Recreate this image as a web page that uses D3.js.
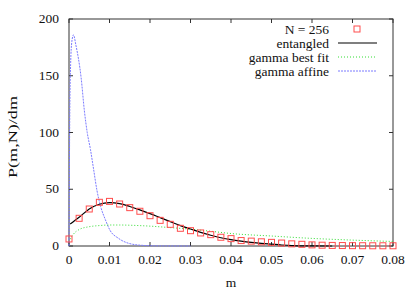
<!DOCTYPE html>
<html lang="en">
  <head>
    <meta charset="utf-8">
    <title>P(m,N)/dm</title>
    <script src="https://d3js.org/d3.v7.min.js"></script>
    <style>
      body{ margin: 0; background: #fff; }
      svg{ display: block; }
    </style>
  </head>

  <body>
    <div id="chart"></div>
    <script>

      // N = 256 histogram (red squares)
      var dataM = [0, 0.0025, 0.005, 0.0075, 0.01, 0.0125, 0.015, 0.0175, 0.02, 0.0225,
                   0.025, 0.0275, 0.03, 0.0325, 0.035, 0.0375, 0.04, 0.0425, 0.045, 0.0475,
                   0.05, 0.0525, 0.055, 0.0575, 0.06, 0.0625, 0.065, 0.0675, 0.07, 0.0725,
                   0.075, 0.0775, 0.08];
      var dataP = [6.2, 24.4, 32.6, 38.5, 39.3, 37, 33.8, 30.6, 26.7, 22.6,
                   19.1, 15.6, 13.5, 11.5, 10, 7.7, 6.5, 4.8, 4.3, 3.7,
                   3.2, 2.6, 1.9, 1.5, 1.0, 0.7, 0.5, 0.4, 0.3, 0.25,
                   0.2, 0.2, 0.2];

      // entangled
      var entM = [0.0003, 0.0025, 0.005, 0.0075, 0.01, 0.0125, 0.015, 0.0175, 0.02, 0.0225,
                  0.025, 0.0275, 0.03, 0.0325, 0.035, 0.0375, 0.04, 0.0425, 0.045, 0.0475,
                  0.05, 0.0525, 0.055, 0.06, 0.065];
      var entP = [19.4, 25.3, 32.7, 36.8, 38.2, 37.3, 34.8, 31.8, 28.5, 25,
                  21.5, 18, 15, 12, 9.5, 7.3, 5.6, 4.3, 3.2, 2.3,
                  1.6, 0.9, 0.4, 0.1, 0];

      // gamma best fit
      var fitM = [0.0003, 0.001, 0.0025, 0.005, 0.0075, 0.01, 0.0125, 0.015, 0.02, 0.025,
                  0.03, 0.035, 0.04, 0.05, 0.06, 0.07, 0.08];
      var fitP = [6, 10, 14.5, 17, 18, 18.5, 18.5, 18.3, 17.5, 16.2,
                  14.8, 13, 11, 8.8, 6.7, 5.2, 4];

      // gamma affine
      var affM = [0, 0.0002, 0.0004, 0.0007, 0.0011, 0.0017, 0.003, 0.0038, 0.0045, 0.0053,
                  0.0061, 0.0069, 0.0078, 0.009, 0.0101, 0.0122, 0.0147, 0.018, 0.022, 0.03];
      var affP = [0, 120, 160, 180, 186, 177, 148, 119, 100, 85,
                  67, 49, 35, 23, 14, 6.8, 2.4, 0.6, 0.1, 0];

      var xTicks = [0, 0.01, 0.02, 0.03, 0.04, 0.05, 0.06, 0.07, 0.08];
      var yTicks = [0, 50, 100, 150, 200];
      var legendNames = ["N = 256", "entangled", "gamma best fit", "gamma affine"];

      var w = 419, h = 293;
      var margin = {top: 19, right: 26, bottom: 47, left: 69};
      var innerWidth = w - margin.left - margin.right;
      var innerHeight = h - margin.top - margin.bottom;
      var fs = 13.5;

      var svg = d3.select("#chart").append("svg")
                  .attr("width", w)
                  .attr("height", h)
                  .attr("font-family", "'Liberation Serif', 'Times New Roman', serif");

      // scales map straight to page pixels
      var xScale = d3.scaleLinear().domain([0, 0.08]).range([margin.left, w - margin.right]);
      var yScale = d3.scaleLinear().domain([0, 200]).range([h - margin.bottom, margin.top]);
      var x0 = margin.left, x1 = w - margin.right, y0 = h - margin.bottom, y1 = margin.top;

      // frame + inward ticks (gnuplot style, mirrored)
      var tl = 4;
      var frame = svg.append("g").attr("stroke", "#333").attr("stroke-width", 1).attr("fill", "none");
      frame.append("rect").attr("x", x0).attr("y", y1).attr("width", innerWidth).attr("height", innerHeight);
      xTicks.forEach(function(t){
        frame.append("line").attr("x1", xScale(t)).attr("x2", xScale(t)).attr("y1", y0).attr("y2", y0 - tl);
        frame.append("line").attr("x1", xScale(t)).attr("x2", xScale(t)).attr("y1", y1).attr("y2", y1 + tl);
      });
      yTicks.forEach(function(t){
        frame.append("line").attr("x1", x0).attr("x2", x0 + tl).attr("y1", yScale(t)).attr("y2", yScale(t));
        frame.append("line").attr("x1", x1).attr("x2", x1 - tl).attr("y1", yScale(t)).attr("y2", yScale(t));
      });

      var label = function(x, y, txt, anchor){
        return svg.append("text")
                  .attr("x", x)
                  .attr("y", y)
                  .attr("text-anchor", anchor)
                  .attr("font-size", fs)
                  .attr("fill", "#111")
                  .text(txt);
      };

      xTicks.forEach(function(t){
        label(xScale(t), y0 + 18, t === 0 ? "0" : d3.format(".2f")(t), "middle");
      });
      yTicks.forEach(function(t){
        label(x0 - 10, yScale(t) + 4, t, "end");
      });

      label((x0 + x1) / 2, y0 + 41, "m", "middle");

      svg.append("text")
         .attr("transform", "translate(17,137) rotate(-90)")
         .attr("text-anchor", "middle")
         .attr("font-size", 13)
         .attr("fill", "#111")
         .attr("textLength", 82)
         .attr("lengthAdjust", "spacingAndGlyphs")
         .text("P(m,N)/dm");

      // curves
      var line = d3.line()
                   .x(d => xScale(d[0]))
                   .y(d => yScale(d[1]))
                   .curve(d3.curveMonotoneX);

      var plot = svg.append("g");

      plot.append("path")
          .datum(affM.map((m, i) => [m, affP[i]]))
          .attr("d", line)
          .attr("fill", "none")
          .attr("stroke", "#7b7bff")
          .attr("stroke-width", 1)
          .attr("stroke-dasharray", "2,1");

      plot.append("path")
          .datum(fitM.map((m, i) => [m, fitP[i]]))
          .attr("d", line)
          .attr("fill", "none")
          .attr("stroke", "#33dd33")
          .attr("stroke-width", 1)
          .attr("stroke-dasharray", "1,2");

      plot.append("path")
          .datum(entM.map((m, i) => [m, entP[i]]))
          .attr("d", line)
          .attr("fill", "none")
          .attr("stroke", "#000")
          .attr("stroke-width", 1.2);

      var sq = 6;
      plot.selectAll("rect.pt").data(dataM.map((m, i) => [m, dataP[i]]))
          .enter().append("rect")
          .attr("class", "pt")
          .attr("x", d => xScale(d[0]) - sq / 2)
          .attr("y", d => yScale(d[1]) - sq / 2)
          .attr("width", sq)
          .attr("height", sq)
          .attr("fill", "none")
          .attr("stroke", "#ff4d4d")
          .attr("stroke-width", 1);

      // legend
      var legY = [29, 43, 57, 71];
      legendNames.forEach(function(n, i){
        label(329, legY[i] + 4.5, n, "end");
      });
      var leg = svg.append("g");
      leg.append("rect").attr("x", 357 - sq / 2).attr("y", legY[0] - sq / 2)
         .attr("width", sq).attr("height", sq)
         .attr("fill", "none").attr("stroke", "#ff4d4d");
      leg.append("line").attr("x1", 338).attr("x2", 377).attr("y1", legY[1]).attr("y2", legY[1])
         .attr("stroke", "#000").attr("stroke-width", 1.2);
      leg.append("line").attr("x1", 338).attr("x2", 377).attr("y1", legY[2]).attr("y2", legY[2])
         .attr("stroke", "#33dd33").attr("stroke-dasharray", "1,2");
      leg.append("line").attr("x1", 338).attr("x2", 377).attr("y1", legY[3]).attr("y2", legY[3])
         .attr("stroke", "#7b7bff").attr("stroke-dasharray", "2,1");

    </script>
  </body>
</html>
